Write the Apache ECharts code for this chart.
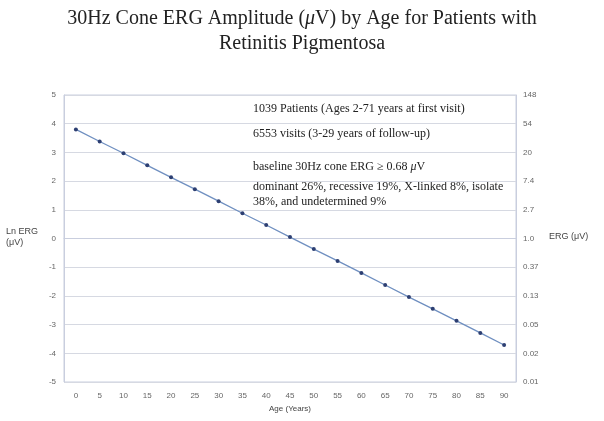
<!DOCTYPE html>
<html>
<head>
<meta charset="utf-8">
<script src="https://cdn.jsdelivr.net/npm/echarts@6/dist/echarts.min.js"></script>
<style>html,body{margin:0;padding:0;background:#fff;}#c{width:604px;height:421px;}</style>
</head>
<body>
<div id="c"></div>
<script>
const ages = ['0','5','10','15','20','25','30','35','40','45','50','55','60','65','70','75','80','85','90'];
const lnErg = [3.80, 3.38, 2.97, 2.55, 2.13, 1.72, 1.30, 0.88, 0.47, 0.05, -0.37, -0.78, -1.20, -1.62, -2.04, -2.45, -2.87, -3.29, -3.71];
const rightTickLabels = ['0.01','0.02','0.05','0.13','0.37','1.0','2.7','7.4','20','54','148'];
const notes = [
  '1039 Patients (Ages 2-71 years at first visit)',
  '6553 visits (3-29 years of follow-up)',
  'baseline 30Hz cone ERG \u2265 0.68 {i|\u03bc}V',
  'dominant 26%, recessive 19%, X-linked 8%, isolate\n38%, and undetermined 9%'
];

const chart = echarts.init(document.getElementById('c'));
const serif = '"Liberation Serif", "DejaVu Serif", serif';
const sans = '"Liberation Sans", Arial, sans-serif';
const noteY = [101, 126, 159, 179];
chart.setOption({
  animation: false,
  backgroundColor: '#fff',
  title: {
    text: '30Hz Cone ERG Amplitude ({i|\u03bc}V) by Age for Patients with\nRetinitis Pigmentosa',
    left: 'center', top: 1,
    textStyle: {
      fontFamily: serif, fontSize: 20, fontWeight: 'normal', color: '#222', lineHeight: 25, align: 'center',
      rich: { i: { fontFamily: serif, fontSize: 20, fontStyle: 'italic', color: '#222' } }
    }
  },
  grid: { left: 64, right: 88, top: 95, bottom: 39, show: true, borderColor: '#c9cede', borderWidth: 1 },
  xAxis: {
    type: 'category', data: ages, boundaryGap: true,
    name: 'Age (Years)', nameLocation: 'middle', nameGap: 21,
    nameTextStyle: { fontFamily: sans, fontSize: 8, color: '#444' },
    axisLine: { lineStyle: { color: '#c9cede' } },
    axisTick: { show: false },
    axisLabel: { fontFamily: sans, fontSize: 8, color: '#666', margin: 10, interval: 0 },
    splitLine: { show: false }
  },
  yAxis: [
    {
      type: 'value', min: -5, max: 5, interval: 1,
      axisLine: { show: true, lineStyle: { color: '#c9cede' } },
      axisTick: { show: false },
      axisLabel: { fontFamily: sans, fontSize: 8, color: '#666', margin: 8 },
      splitLine: { lineStyle: { color: '#d6d9e2', width: 1 } }
    },
    {
      type: 'value', min: -5, max: 5, interval: 1, position: 'right',
      axisLine: { show: true, lineStyle: { color: '#c9cede' } },
      axisTick: { show: false },
      axisLabel: {
        fontFamily: sans, fontSize: 8, color: '#666', margin: 7,
        formatter: v => rightTickLabels[Math.round(v) + 5]
      },
      splitLine: { show: false }
    }
  ],
  graphic: [
    { type: 'text', left: 6, top: 226, style: { text: 'Ln ERG\n(\u03bcV)', font: '9px ' + sans, fill: '#444', lineHeight: 11 } },
    { type: 'text', left: 549, top: 232, style: { text: 'ERG (\u03bcV)', font: '9px ' + sans, fill: '#444' } }
  ].concat(notes.map((t, k) => ({
    type: 'text', left: 253, top: noteY[k],
    style: {
      text: t, font: '12px ' + serif, fill: '#222', lineHeight: 15,
      rich: { i: { fontFamily: serif, fontSize: 12, fontStyle: 'italic', fill: '#222' } }
    }
  }))),
  series: [{
    type: 'line', data: lnErg, yAxisIndex: 0,
    symbol: 'circle', symbolSize: 4,
    lineStyle: { color: '#6f8fc0', width: 1.3 },
    itemStyle: { color: '#2d3f72' }
  }]
});
</script>
</body>
</html>
